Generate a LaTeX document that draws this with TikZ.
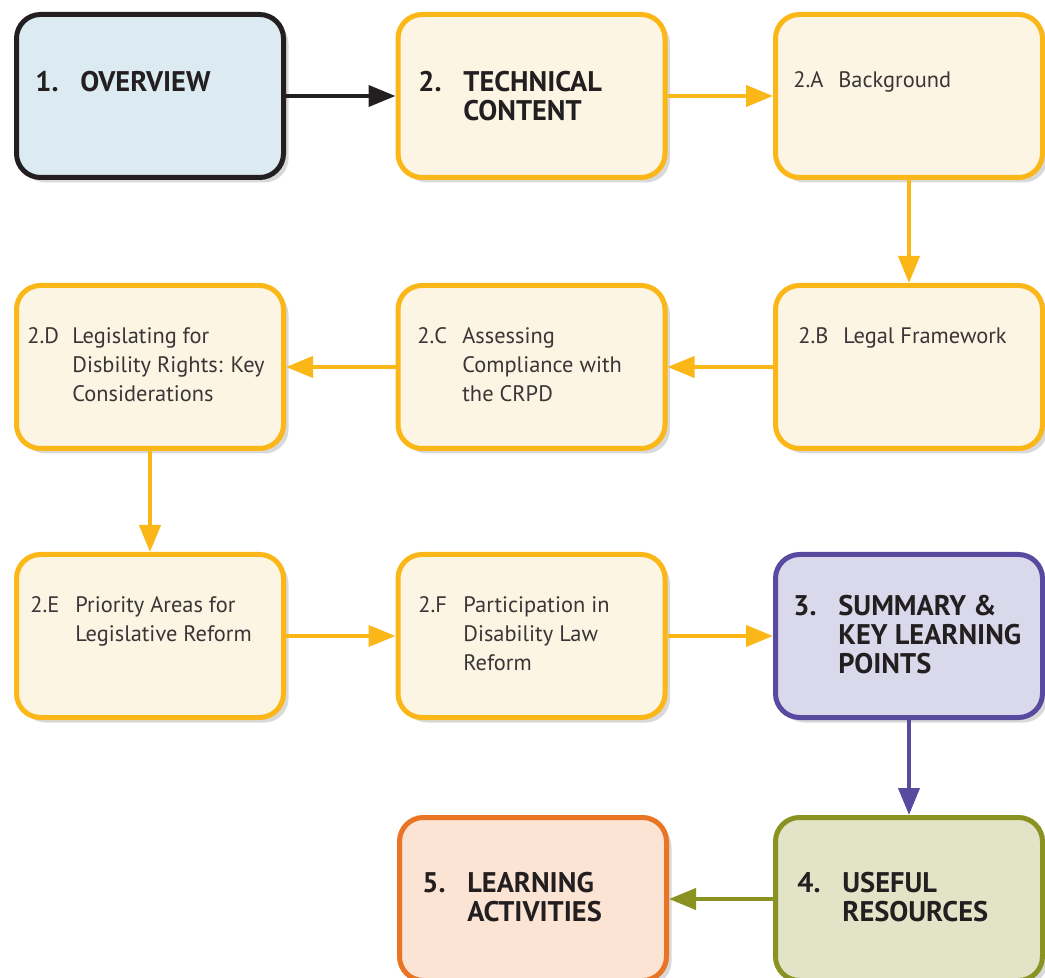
\documentclass[tikz,border=0pt]{standalone}
\usepackage{fontspec}
\setmainfont{PT Sans}
\usetikzlibrary{arrows.meta,positioning,shadows}

\definecolor{ovline}{HTML}{231F20}
\definecolor{ovfill}{HTML}{DCEBF2}
\definecolor{techline}{HTML}{FBB617}
\definecolor{techfill}{HTML}{FDF5E3}
\definecolor{sumline}{HTML}{574A9F}
\definecolor{sumfill}{HTML}{DAD8EB}
\definecolor{resline}{HTML}{8A9322}
\definecolor{resfill}{HTML}{E2E3C7}
\definecolor{actline}{HTML}{E87424}
\definecolor{actfill}{HTML}{FCE4D4}
\definecolor{headtext}{HTML}{231F20}
\definecolor{bodytext}{HTML}{3A3536}

% number in a fixed column, then the lines of the entry
\newcommand{\entry}[2]{\makebox[22.5pt][l]{#1}\begin{tabular}[t]{@{}l@{}}#2\end{tabular}}

\begin{document}
\begin{tikzpicture}[
	x=0.5pt, y=-0.5pt,
	box/.style   = {draw, rounded corners=12pt, line width=2.5pt, minimum width=133.5pt, minimum height=81.5pt,
	                drop shadow={shadow xshift=2.5pt, shadow yshift=-2.5pt, opacity=0.25, fill=black!60}},
	overview/.style = {box, draw=ovline, fill=ovfill},
	tech/.style     = {box, draw=techline, fill=techfill},
	summary/.style  = {box, draw=sumline, fill=sumfill},
	resource/.style = {box, draw=resline, fill=resfill},
	activity/.style = {box, draw=actline, fill=actfill},
	head/.style  = {anchor=base west, inner sep=0pt, text=headtext, font=\fontsize{14.2}{14.5}\selectfont\bfseries},
	body/.style  = {anchor=base west, inner sep=0pt, text=bodytext, font=\fontsize{11.2}{14.5}\selectfont},
	flow/.style  = {-{Triangle[length=13.5pt,width=10.5pt]}, line width=2pt},
	]

	\useasboundingbox (0,0) rectangle (1045,978);

	% first row
	\node[overview] (b1)  at (150,96)   {};
	\node[tech]     (b2)  at (531.5,96) {};
	\node[tech]     (b2a) at (909,96)   {};

	% second row
	\node[tech] (b2d) at (150,367)   {};
	\node[tech] (b2c) at (531.5,367) {};
	\node[tech] (b2b) at (909,367)   {};

	% third row
	\node[tech]    (b2e) at (150,636)   {};
	\node[tech]    (b2f) at (531.5,636) {};
	\node[summary] (b3)  at (909,636)   {};

	% fourth row
	\node[activity] (b5) at (533,899) {};
	\node[resource] (b4) at (909,899) {};

	% texts, placed on the baseline of their first line
	\node[head] (t1)  at (35,92)   {\entry{1.}{OVERVIEW}};
	\node[head] (t2)  at (418,92)  {\entry{2.}{TECHNICAL\\CONTENT}};
	\node[body] (t2a) at (793,88)  {\entry{2.A}{Background}};
	\node[body] (t2d) at (27,344)  {\entry{2.D}{Legislating for\\Disbility Rights: Key\\Considerations}};
	\node[body] (t2c) at (417,344) {\entry{2.C}{Assessing\\Compliance with\\the CRPD}};
	\node[body] (t2b) at (798,344) {\entry{2.B}{Legal Framework}};
	\node[body] (t2e) at (30,612)  {\entry{2.E}{Priority Areas for\\Legislative Reform}};
	\node[body] (t2f) at (418,612) {\entry{2.F}{Participation in\\Disability Law\\Reform}};
	\node[head] (t3)  at (793,616) {\entry{3.}{SUMMARY \&\\KEY LEARNING\\POINTS}};
	\node[head] (t4)  at (797,892) {\entry{4.}{USEFUL\\RESOURCES}};
	\node[head] (t5)  at (422,892) {\entry{5.}{LEARNING\\ACTIVITIES}};

	% connectors
	\draw[flow, ovline] (b1.east) -- (b2.west);
	\draw[flow, techline] (b2.east) -- (b2a.west);
	\draw[flow, techline] (b2a.south) -- (b2b.north);
	\draw[flow, techline] (b2b.west) -- (b2c.east);
	\draw[flow, techline] (b2c.west) -- (b2d.east);
	\draw[flow, techline] (b2d.south) -- (b2e.north);
	\draw[flow, techline] (b2e.east) -- (b2f.west);
	\draw[flow, techline] (b2f.east) -- (b3.west);
	\draw[flow, sumline] (b3.south) -- (b4.north);
	\draw[flow, resline] (b4.west) -- (b5.east);

\end{tikzpicture}
\end{document}
